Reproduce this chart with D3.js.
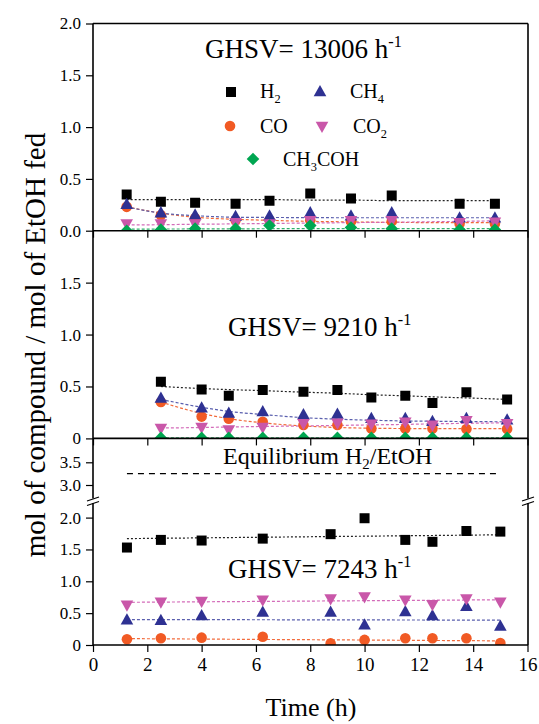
<!DOCTYPE html>
<html><head><meta charset="utf-8">
<script src="https://cdn.jsdelivr.net/npm/d3@7"></script>
<style>
body{margin:0;background:#fff}
text{font-family:"Liberation Serif","Times New Roman",serif}
</style>
</head><body>
<svg id="chart" width="539" height="724"></svg>
<script>
// ---------------- DATA ----------------
const xTickValues = [0,2,4,6,8,10,12,14,16];
const seriesNames = ["H2","CO","CH4","CO2","CH3COH"];

// GHSV = 13006 h-1 (top panel)
const timeA   = [1.24,2.5,3.76,5.25,6.5,8.0,9.5,11.0,13.5,14.8];
const h2A     = [0.35,0.28,0.27,0.26,0.29,0.36,0.31,0.34,0.26,0.26];
const coA     = [0.23,0.15,0.12,0.10,0.10,0.10,0.09,0.09,0.07,0.07];
const ch4A    = [0.25,0.17,0.15,0.135,0.14,0.17,0.14,0.17,0.12,0.12];
const co2A    = [0.07,0.07,0.07,0.08,0.07,0.10,0.10,0.10,0.08,0.085];
const ch3cohA = [0.0,0.01,0.02,0.02,0.05,0.05,0.03,0.02,0.01,0.01];
const trendTimeA   = [1.24,2.5,3.76,5.25,6.5,8.0,9.5,11.0,13.5,14.8];
const trendH2A     = [0.30,0.30,0.30,0.30,0.30,0.295,0.295,0.29,0.29,0.29];
const trendCOA     = [0.23,0.17,0.13,0.11,0.10,0.09,0.085,0.08,0.078,0.078];
const trendCH4A    = [0.23,0.17,0.145,0.13,0.128,0.126,0.125,0.125,0.125,0.125];
const trendCO2A    = [0.055,0.058,0.062,0.066,0.07,0.074,0.078,0.082,0.09,0.095];
const trendCH3COHA = [0.015,0.016,0.017,0.018,0.019,0.02,0.02,0.02,0.02,0.02];

// GHSV = 9210 h-1 (middle panel)
const timeB   = [2.5,4.0,5.0,6.25,7.75,9.0,10.25,11.5,12.5,13.75,15.25];
const h2B     = [0.545,0.47,0.41,0.465,0.45,0.465,0.395,0.41,0.34,0.445,0.375];
const coB     = [0.35,0.21,0.19,0.16,0.13,0.13,0.095,0.095,0.095,0.09,0.09];
const ch4B    = [0.385,0.29,0.24,0.255,0.225,0.23,0.19,0.19,0.16,0.19,0.175];
const co2B    = [0.10,0.11,0.085,0.11,0.145,0.15,0.14,0.16,0.13,0.175,0.145];
const ch3cohB = [0.005,0.005,0.005,0.005,0.005,0.005,0.005,0.005,0.005,0.005,0.005];
const trendTimeB   = [2.5,4.0,5.0,6.25,7.75,9.0,10.25,11.5,12.5,13.75,15.25];
const trendH2B     = [0.50,0.48,0.47,0.46,0.445,0.435,0.42,0.41,0.40,0.39,0.375];
const trendCOB     = [0.35,0.24,0.19,0.15,0.12,0.105,0.098,0.095,0.095,0.095,0.095];
const trendCH4B    = [0.375,0.30,0.26,0.23,0.20,0.185,0.175,0.168,0.165,0.162,0.16];
const trendCO2B    = [0.10,0.105,0.11,0.115,0.12,0.125,0.13,0.135,0.14,0.145,0.15];
const trendCH3COHB = [0.005,0.005,0.005,0.005,0.005,0.005,0.005,0.005,0.005,0.005,0.005];

// GHSV = 7243 h-1 (bottom panel, broken axis)
const timeC   = [1.25,2.5,4.0,6.25,8.75,10.0,11.5,12.5,13.75,15.0];
const h2C     = [1.53,1.65,1.64,1.67,1.74,1.99,1.65,1.62,1.79,1.78];
const coC     = [0.09,0.105,0.115,0.13,0.025,0.08,0.105,0.105,0.105,0.03];
const ch4C    = [0.39,0.38,0.455,0.51,0.51,0.31,0.52,0.455,0.60,0.29];
const co2C    = [0.63,0.68,0.69,0.71,0.73,0.76,0.71,0.64,0.73,0.68];
const trendTimeC = [1.25,15.0];
const trendH2C   = [1.67,1.73];
const trendCOC   = [0.10,0.065];
const trendCH4C  = [0.40,0.39];
const trendCO2C  = [0.67,0.71];
const equilibriumTime  = [1.25,15.0];
const equilibriumValue = [3.25,3.25];

// tick labels
const yTicksTop   = [0,0.5,1.0,1.5,2.0];
const yTicksMid   = [0,0.5,1.0,1.5];
const yTicksLow   = [0,0.5,1.0,1.5,2.0];
const yTicksUp    = [3.0,3.5];

// ---------------- STYLE ----------------
const FONT = '"Liberation Serif","Times New Roman",serif';
const colors = {H2:"#000000",CO:"#f15a24",CH4:"#2e3192",CO2:"#c957a9",CH3COH:"#00a651"};
const lineColors = {H2:"#222222",CO:"#f26a3a",CH4:"#5a5fae",CO2:"#d36bb9",CH3COH:"#2fb06a"};

const svg = d3.select("#chart").style("font-family",FONT);
const L = 93, R = 528;
const yTopPx = 23.5, yDiv1 = 230.7, yDiv2 = 438.4, yBot = 645;

const x = d3.scaleLinear().domain([0,16]).range([L,527.5]);
const yA = d3.scaleLinear().domain([0,2]).range([yDiv1,yTopPx]);
const yB = d3.scaleLinear().domain([0,2]).range([yDiv2,yDiv1]);
const yLow = d3.scaleLinear().domain([0,2]).range([yBot,517.6]);
const yUp = d3.scaleLinear().domain([3.0,3.5]).range([485,462.3]);
const breakTop = 498.5, breakBot = 503;

const defs = svg.append("defs");
function clip(id,y0,y1){
  defs.append("clipPath").attr("id",id).append("rect")
    .attr("x",L).attr("y",y0).attr("width",R-L).attr("height",y1-y0);
}
clip("cA",yTopPx,yDiv1); clip("cB",yDiv1,yDiv2); clip("cC",breakBot,yBot); clip("cU",yDiv2,breakTop);

function markerPath(type){
  switch(type){
    case "H2": return "M-5,-5H5V5H-5Z";
    case "CO": return d3.symbol(d3.symbolCircle, Math.PI*5.3*5.3)();
    case "CH4": return "M0,-7L6.3,4.3H-6.3Z";
    case "CO2": return "M0,7L6.3,-4.3H-6.3Z";
    case "CH3COH": return "M0,-6.3L6.3,0L0,6.3L-6.3,0Z";
  }
}

function drawPanel(clipId, yScale, time, vals, trendTime, trends){
  const g = svg.append("g").attr("clip-path",`url(#${clipId})`);
  seriesNames.forEach(s=>{
    if(!trends[s]) return;
    const pts = trendTime.map((t,i)=>[t,trends[s][i]]);
    g.append("path")
      .attr("d", d3.line().x(d=>x(d[0])).y(d=>yScale(d[1])).curve(d3.curveMonotoneX)(pts))
      .attr("fill","none").attr("stroke",lineColors[s]).attr("stroke-width",1.2)
      .attr("stroke-dasharray", s==="H2" ? "2,2" : "3,2");
  });
  seriesNames.forEach(s=>{
    if(!vals[s]) return;
    g.selectAll(null).data(time.map((t,i)=>[t,vals[s][i]])).enter()
      .append("path").attr("d",markerPath(s))
      .attr("transform",d=>`translate(${x(d[0])},${yScale(d[1])})`)
      .attr("fill",colors[s]);
  });
}

drawPanel("cA", yA, timeA, {H2:h2A,CO:coA,CH4:ch4A,CO2:co2A,CH3COH:ch3cohA}, trendTimeA,
  {H2:trendH2A,CO:trendCOA,CH4:trendCH4A,CO2:trendCO2A,CH3COH:trendCH3COHA});
drawPanel("cB", yB, timeB, {H2:h2B,CO:coB,CH4:ch4B,CO2:co2B,CH3COH:ch3cohB}, trendTimeB,
  {H2:trendH2B,CO:trendCOB,CH4:trendCH4B,CO2:trendCO2B,CH3COH:trendCH3COHB});
drawPanel("cC", yLow, timeC, {H2:h2C,CO:coC,CH4:ch4C,CO2:co2C}, trendTimeC,
  {H2:trendH2C,CO:trendCOC,CH4:trendCH4C,CO2:trendCO2C});

svg.append("g").attr("clip-path","url(#cU)").append("path")
  .attr("d", d3.line().x(d=>x(d[0])).y(d=>yUp(d[1]))(equilibriumTime.map((t,i)=>[t,equilibriumValue[i]])))
  .attr("stroke","#000").attr("stroke-width",1.3).attr("stroke-dasharray","6,5").attr("fill","none");

// ---------------- AXES ----------------
const fmt1 = d3.format(".1f");
function yAxis(scale, ticks, minor, fmt){
  const g = svg.append("g").attr("transform",`translate(${L},0)`);
  g.call(d3.axisLeft(scale).tickValues(minor).tickSize(4).tickFormat(""));
  g.call(d3.axisLeft(scale).tickValues(ticks).tickSize(7).tickPadding(5).tickFormat(fmt));
  g.attr("font-family",FONT).attr("font-size",17);
  g.selectAll(".domain").remove();
  g.selectAll("line").attr("stroke","#000").attr("stroke-width",1.2);
  g.selectAll("text").style("font-family",FONT).style("font-size","17px").attr("fill","#000");
}
yAxis(yA, yTicksTop, [0.25,0.75,1.25,1.75], fmt1);
yAxis(yB, yTicksMid, [0.25,0.75,1.25,1.75], d=>d===0?"0":fmt1(d));
yAxis(yLow, yTicksLow, [0.25,0.75,1.25,1.75], d=>d===0?"0":fmt1(d));
yAxis(yUp, yTicksUp, [3.25,3.75], fmt1);

function xAxis(yPos, labels){
  const g = svg.append("g").attr("transform",`translate(0,${yPos})`);
  g.call(d3.axisBottom(x).tickValues(d3.range(1,16,2)).tickSize(4).tickFormat(""));
  g.call(d3.axisBottom(x).tickValues(xTickValues).tickSize(7).tickPadding(6).tickFormat(labels?d3.format("d"):""));
  g.attr("font-family",FONT).attr("font-size",19);
  g.selectAll(".domain").remove();
  g.selectAll("line").attr("stroke","#000").attr("stroke-width",1.2);
  g.selectAll("text").style("font-family",FONT).style("font-size","19px").attr("fill","#000");
}
xAxis(yDiv1,false); xAxis(yDiv2,false); xAxis(yBot,true);

const frame = svg.append("g").attr("stroke","#000").attr("stroke-width",1.6).attr("fill","none");
[yTopPx,yDiv1,yDiv2,yBot].forEach(yy=>{
  frame.append("line").attr("x1",L).attr("x2",R).attr("y1",yy).attr("y2",yy);
});
[L,R].forEach(xx=>{
  frame.append("line").attr("x1",xx).attr("x2",xx).attr("y1",yTopPx).attr("y2",breakTop);
  frame.append("line").attr("x1",xx).attr("x2",xx).attr("y1",breakBot).attr("y2",yBot);
  frame.append("line").attr("x1",xx-6).attr("x2",xx+6).attr("y1",breakTop+2.5).attr("y2",breakTop-1.5).attr("stroke-width",1.2);
  frame.append("line").attr("x1",xx-6).attr("x2",xx+6).attr("y1",breakBot+2.5).attr("y2",breakBot-1.5).attr("stroke-width",1.2);
});

// ---------------- TEXT ----------------
function title(xp, yp, main, size){
  const t = svg.append("text").attr("x",xp).attr("y",yp).style("font-size",size+"px").style("font-family",FONT);
  t.append("tspan").text(main);
  t.append("tspan").attr("dy",-11).style("font-size",(size*0.6)+"px").text("-1");
}
title(205, 58, "GHSV= 13006 h", 27);
title(228, 336, "GHSV= 9210 h", 27);
title(228, 578, "GHSV= 7243 h", 27);

function chem(xp, yp, parts, size){
  const t = svg.append("text").attr("x",xp).attr("y",yp).style("font-size",size+"px").style("font-family",FONT);
  let pending = 0;
  parts.forEach(p=>{
    if(p.sub){
      t.append("tspan").attr("dy",5+pending).style("font-size",(size*0.62)+"px").text(p.sub);
      pending = -5;
    } else { t.append("tspan").attr("dy",pending).text(p.t); pending = 0; }
  });
  return t;
}
const legendItems = [
  {s:"H2", mx:231, my:92, tx:260, ty:98, parts:[{t:"H"},{sub:"2"}]},
  {s:"CH4", mx:320, my:92, tx:350, ty:98, parts:[{t:"CH"},{sub:"4"}]},
  {s:"CO", mx:230, my:126, tx:260, ty:133, parts:[{t:"CO"}]},
  {s:"CO2", mx:322, my:126, tx:353, ty:133, parts:[{t:"CO"},{sub:"2"}]},
  {s:"CH3COH", mx:253, my:159, tx:283, ty:166, parts:[{t:"CH"},{sub:"3"},{t:"COH"}]}
];
legendItems.forEach(d=>{
  svg.append("path").attr("d",markerPath(d.s)).attr("transform",`translate(${d.mx},${d.my})`).attr("fill",colors[d.s]);
  chem(d.tx, d.ty, d.parts, 20);
});

chem(223, 464, [{t:"Equilibrium H"},{sub:"2"},{t:"/EtOH"}], 24);

svg.append("text").attr("x",311).attr("y",716).attr("text-anchor","middle").style("font-family",FONT).style("font-size","26px").text("Time (h)");
svg.append("text").attr("transform","translate(45,345) rotate(-90)").attr("text-anchor","middle").style("font-family",FONT)
  .style("font-size","29px").text("mol of compound / mol of EtOH fed");
</script>
</body></html>
